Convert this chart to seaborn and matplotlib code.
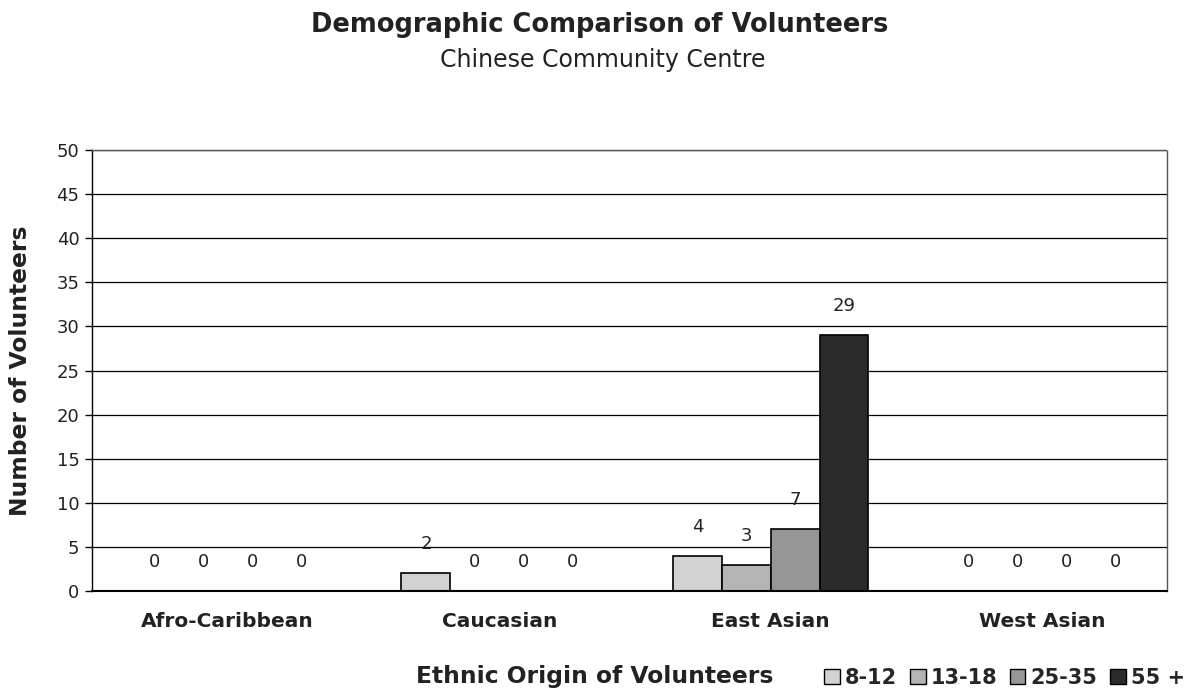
import matplotlib
matplotlib.use("Agg")
import matplotlib.pyplot as plt
import seaborn as sns
import pandas as pd
from matplotlib.patches import Patch

# Volunteer counts by ethnic origin and age group
origins = ["Afro-Caribbean", "Caucasian", "East Asian", "West Asian"]
age_groups = ["8-12", "13-18", "25-35", "55 +"]
counts_8_12 = [0, 2, 4, 0]
counts_13_18 = [0, 0, 3, 0]
counts_25_35 = [0, 0, 7, 0]
counts_55_plus = [0, 0, 29, 0]
y_ticks = [0, 5, 10, 15, 20, 25, 30, 35, 40, 45, 50]

series = [counts_8_12, counts_13_18, counts_25_35, counts_55_plus]
df = pd.DataFrame(
    [(o, a, s[i]) for a, s in zip(age_groups, series) for i, o in enumerate(origins)],
    columns=["origin", "age", "count"],
)

palette = ["#d2d2d2", "#b4b4b4", "#969696", "#2b2b2b"]

sns.set_theme(style="white")
plt.rcParams["font.family"] = ["DejaVu Sans"]

fig = plt.figure(figsize=(11.88, 6.91), dpi=100)
ax = fig.add_axes([92 / 1188, 1 - 591 / 691, 1075 / 1188, 441 / 691])

sns.barplot(
    data=df, x="origin", y="count", hue="age", order=origins, hue_order=age_groups,
    palette=palette, width=0.72, edgecolor="black", linewidth=1.2, saturation=1,
    legend=False, ax=ax,
)

ax.set_ylim(0, 50)
ax.set_xlim(-0.5, 3.46)
ax.set_yticks(y_ticks)
ax.set_yticklabels([str(t) for t in y_ticks], fontsize=13, color="#222222")
ax.set_xticks(range(len(origins)))
ax.set_xticklabels(origins, fontsize=14.5, fontweight="bold", color="#222222")
ax.tick_params(axis="y", left=True, length=5, width=1, color="black", pad=4)
ax.tick_params(axis="x", bottom=False, pad=9)
ax.set_axisbelow(True)
ax.yaxis.grid(True, color="black", linewidth=0.9)

for side in ["top", "right"]:
    ax.spines[side].set_linestyle((0, (1, 1)))
    ax.spines[side].set_color("#555555")
    ax.spines[side].set_linewidth(1)
ax.spines["left"].set_color("black")
ax.spines["bottom"].set_color("black")
ax.spines["left"].set_linewidth(1)
ax.spines["bottom"].set_linewidth(1.5)

# value labels above each bar
for container in ax.containers:
    for bar in container:
        h = bar.get_height()
        ax.annotate(
            f"{h:.0f}", (bar.get_x() + bar.get_width() / 2, h),
            xytext=(0, 29), textcoords="offset pixels",
            ha="center", va="center", fontsize=13, color="#222222",
        )

ax.set_ylabel("Number of Volunteers", fontsize=16.8, fontweight="bold", color="#222222")
ax.yaxis.set_label_coords(-0.056, 0.5)
ax.set_xlabel("Ethnic Origin of Volunteers", fontsize=16.8, fontweight="bold", color="#222222")
ax.xaxis.label.set_va("center")
ax.xaxis.set_label_coords(0.468, -0.195)

fig.text(600 / 1188, 1 - 25 / 691, "Demographic Comparison of Volunteers",
         ha="center", va="center", fontsize=18.5, fontweight="bold", color="#222222")
fig.text(603 / 1188, 1 - 60 / 691, "Chinese Community Centre",
         ha="center", va="center", fontsize=17, color="#222222")

handles = [Patch(facecolor=c, edgecolor="black", linewidth=1) for c in palette]
fig.legend(
    handles, age_groups, loc="center right", bbox_to_anchor=(1185 / 1188, 1 - 678 / 691),
    ncol=4, frameon=False, handlelength=0.75, handleheight=0.75, handletextpad=0.25,
    columnspacing=0.6, prop={"size": 15, "weight": "bold"}, borderpad=0, borderaxespad=0,
)

fig.savefig("out.png", dpi=100)
